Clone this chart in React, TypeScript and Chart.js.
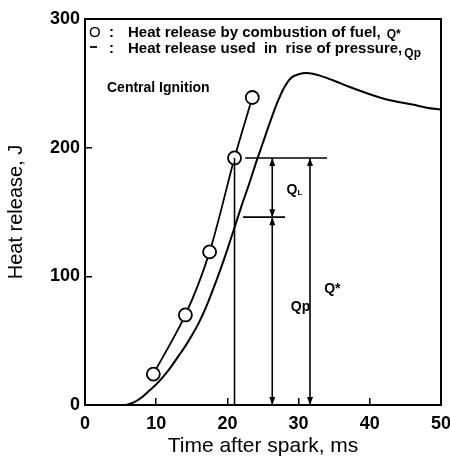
import React, { useEffect, useRef } from "react";
import { Chart, registerables } from "chart.js";

Chart.register(...registerables);

// ---- data ----
// Heat release used in rise of pressure, Qp (solid curve)
const qpTime = [5.85, 7, 8, 9, 10, 11, 12, 13, 14, 15, 16, 17, 18, 19, 20, 21, 22, 23, 24, 25, 26, 27, 28, 29, 30, 31, 32, 33, 35, 37, 40, 42, 44, 46, 48, 50];
const qpHeat = [0, 2.5, 6, 11, 16, 22, 29, 37, 45, 54, 64, 76, 90, 105, 121, 138, 155, 171, 188, 204, 220, 235, 247, 254.5, 257, 258, 257.5, 256, 252, 247.5, 241.5, 238, 235.5, 233.5, 231, 229.5];

// Heat release by combustion of fuel, Q* (open circles)
const fuelTime = [9.6, 14.1, 17.5, 21.0, 23.5];
const fuelHeat = [24, 70, 119, 192, 239];

// axis ticks
const xTicks = [0, 10, 20, 30, 40, 50];
const yTicks = [0, 100, 200, 300];

// construction lines (Q*, Qp, QL)
const qStarLevel = 192;
const qpLevel = 146;
const dropTime = 21.0;
const qStarLineSpan = [22.5, 34];
const qpLineSpan = [22.2, 28.1];
const splitArrowTime = 26.3;
const totalArrowTime = 31.6;

// text labels
const legendLines = [
  { sym: "O", text: "Heat release by combustion of fuel, ", sub: "Q*" },
  { sym: "dash", text: "Heat release used  in  rise of pressure,", sub: "Qp" },
];
const noteText = "Central Ignition";
const labelQL = { t: 28.3, v: 167 };
const labelQp = { t: 28.9, v: 76 };
const labelQStar = { t: 33.6, v: 90 };

const FAMILY = '"Liberation Sans", Arial, Helvetica, sans-serif';

const overlay = {
  id: "overlay",
  afterDatasetsDraw(chart: any) {
    const { ctx, chartArea: a, scales } = chart;
    const X = (v: number) => scales.x.getPixelForValue(v);
    const Y = (v: number) => scales.y.getPixelForValue(v);
    ctx.save();
    ctx.strokeStyle = "#000";
    ctx.fillStyle = "#000";
    ctx.lineWidth = 2;
    ctx.strokeRect(a.left, a.top, a.right - a.left, a.bottom - a.top);

    ctx.lineWidth = 1.6;
    const line = (x1: number, y1: number, x2: number, y2: number) => {
      ctx.beginPath();
      ctx.moveTo(x1, y1);
      ctx.lineTo(x2, y2);
      ctx.stroke();
    };
    const head = (px: number, py: number, dir: number) => {
      ctx.beginPath();
      ctx.moveTo(px, py);
      ctx.lineTo(px - 3, py - dir * 8);
      ctx.lineTo(px + 3, py - dir * 8);
      ctx.closePath();
      ctx.fill();
    };
    const dim = (t: number, v0: number, v1: number) => {
      const px = X(t);
      line(px, Y(v0), px, Y(v1));
      head(px, Y(v1), -1);
      head(px, Y(v0), 1);
    };

    line(X(dropTime), Y(0), X(dropTime), Y(qStarLevel));
    line(X(qStarLineSpan[0]), Y(qStarLevel), X(qStarLineSpan[1]), Y(qStarLevel));
    line(X(qpLineSpan[0]), Y(qpLevel), X(qpLineSpan[1]), Y(qpLevel));
    dim(splitArrowTime, 0, qpLevel);
    dim(splitArrowTime, qpLevel, qStarLevel);
    dim(totalArrowTime, 0, qStarLevel);

    // labels
    ctx.textBaseline = "middle";
    ctx.textAlign = "left";
    ctx.font = `bold 14px ${FAMILY}`;
    ctx.fillText("Q", X(labelQL.t), Y(labelQL.v));
    const qw = ctx.measureText("Q").width;
    ctx.font = `bold 8px ${FAMILY}`;
    ctx.fillText("L", X(labelQL.t) + qw, Y(labelQL.v) + 3);
    ctx.font = `bold 14px ${FAMILY}`;
    ctx.fillText("Qp", X(labelQp.t), Y(labelQp.v));
    ctx.fillText("Q*", X(labelQStar.t), Y(labelQStar.v));

    ctx.font = `bold 14px ${FAMILY}`;
    ctx.fillText(noteText, a.left + 22, a.top + 69);

    // legend text
    legendLines.forEach((l, i) => {
      const cy = a.top + 14 + i * 16;
      if (l.sym === "O") {
        ctx.font = `15px ${FAMILY}`;
        ctx.fillText("O", a.left + 4, cy);
      } else {
        ctx.lineWidth = 1.8;
        line(a.left + 5, cy - 2, a.left + 12, cy - 2);
      }
      ctx.font = `bold 15px ${FAMILY}`;
      ctx.fillText(":", a.left + 24, cy);
      ctx.fillText(l.text, a.left + 43, cy);
      const w = ctx.measureText(l.text).width;
      ctx.font = `bold 12px ${FAMILY}`;
      ctx.fillText(l.sub, a.left + 43 + w + 2, cy + 2 + i * 3);
    });
    ctx.restore();
  },
};

export default function App() {
  const ref = useRef<HTMLCanvasElement>(null);
  useEffect(() => {
    const tickFont = { family: FAMILY, size: 18, weight: "bold" as const };
    const chart = new Chart(ref.current!, {
      type: "scatter",
      data: {
        datasets: [
          {
            label: "Qp",
            data: qpTime.map((t, i) => ({ x: t, y: qpHeat[i] })),
            showLine: true,
            borderColor: "#000",
            borderWidth: 2,
            pointRadius: 0,
            cubicInterpolationMode: "monotone",
            order: 2,
          },
          {
            label: "Q*",
            data: fuelTime.map((t, i) => ({ x: t, y: fuelHeat[i] })),
            showLine: true,
            borderColor: "#000",
            borderWidth: 1.8,
            tension: 0.3,
            pointRadius: 6.5,
            pointBorderWidth: 1.8,
            pointBackgroundColor: "#fff",
            pointBorderColor: "#000",
            order: 1,
          },
        ],
      },
      options: {
        responsive: false,
        animation: false,
        devicePixelRatio: 1,
        layout: { padding: { top: 19, right: 9, left: 0, bottom: 0 } },
        plugins: { legend: { display: false }, tooltip: { enabled: false } },
        scales: {
          x: {
            type: "linear",
            min: 0,
            max: 50,
            afterBuildTicks: (s: any) => {
              s.ticks = xTicks.map((v) => ({ value: v }));
            },
            ticks: { color: "#000", font: tickFont, padding: 15, maxRotation: 0 },
            grid: { drawOnChartArea: false, tickLength: -7, color: "#000", tickColor: "#000", lineWidth: 1.5 },
            border: { color: "#000", width: 2 },
            title: {
              display: true,
              text: "Time after spark, ms",
              color: "#000",
              font: { family: FAMILY, size: 21, lineHeight: 1 },
              padding: { top: 0, bottom: 0 },
            },
            afterFit: (s: any) => {
              s.height = 52;
              s.paddingLeft = 0;
              s.paddingRight = 0;
            },
          },
          y: {
            type: "linear",
            min: 0,
            max: 300,
            afterBuildTicks: (s: any) => {
              s.ticks = yTicks.map((v) => ({ value: v }));
            },
            ticks: { color: "#000", font: tickFont, padding: 12 },
            grid: { drawOnChartArea: false, tickLength: -7, color: "#000", tickColor: "#000", lineWidth: 1.5 },
            border: { color: "#000", width: 2 },
            title: {
              display: true,
              text: "Heat release, J",
              color: "#000",
              font: { family: FAMILY, size: 20, lineHeight: 1.2 },
              padding: { top: 4, bottom: 0 },
            },
            afterFit: (s: any) => {
              s.width = 85;
              s.paddingTop = 0;
              s.paddingBottom = 0;
            },
          },
        },
      },
      plugins: [overlay],
    } as any);
    return () => chart.destroy();
  }, []);
  return (
    <div style={{ position: "fixed", left: 0, top: 0, width: 450, height: 457, background: "#fff" }}>
      <canvas ref={ref} width={450} height={457} style={{ display: "block", width: 450, height: 457 }} />
    </div>
  );
}
